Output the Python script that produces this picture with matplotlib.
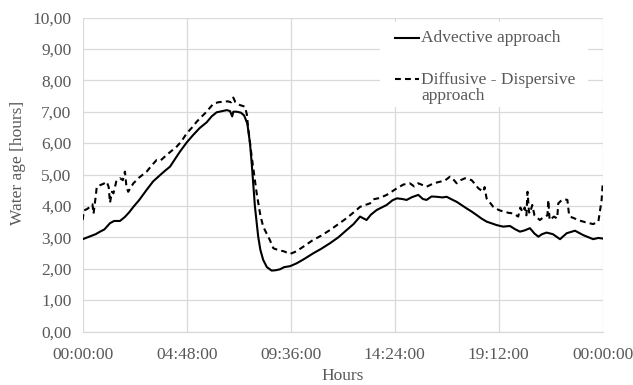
import matplotlib
matplotlib.use("Agg")
import matplotlib.pyplot as plt
from matplotlib.lines import Line2D
from matplotlib.patches import Rectangle

# ---- data (hours since 00:00, water age in hours) ----
adv_hours = [0.0, 0.3, 0.6, 0.8, 1.0, 1.26, 1.45, 1.72, 1.95, 2.15, 2.34, 2.6, 2.95, 3.25,
             3.57, 3.8, 4.03, 4.25, 4.49, 4.8, 5.1, 5.4, 5.72, 5.95, 6.18, 6.45, 6.65, 6.8,
             6.9, 6.95, 7.1, 7.3, 7.45, 7.6, 7.72, 7.8, 7.95, 8.1, 8.2, 8.33, 8.5, 8.72,
             8.9, 9.1, 9.3, 9.57, 9.87, 10.2, 10.64, 11.0, 11.41, 11.8, 12.18, 12.5, 12.8,
             13.1, 13.3, 13.57, 14.03, 14.3, 14.5, 14.75, 14.95, 15.2, 15.49, 15.7, 15.87,
             16.1, 16.34, 16.6, 16.8, 17.05, 17.26, 17.5, 17.72, 17.95, 18.18, 18.4, 18.64,
             18.85, 19.1, 19.4, 19.72, 19.95, 20.18, 20.4, 20.64, 20.85, 21.03, 21.2, 21.41,
             21.7, 22.03, 22.34, 22.72, 23.1, 23.35, 23.56, 23.8, 24.0]
adv_age = [2.94, 3.02, 3.10, 3.18, 3.25, 3.45, 3.52, 3.52, 3.65, 3.80, 3.97, 4.18, 4.51, 4.78,
           4.98, 5.12, 5.25, 5.48, 5.73, 6.02, 6.26, 6.48, 6.66, 6.85, 6.98, 7.02, 7.05, 7.02,
           6.85, 7.00, 7.00, 6.97, 6.88, 6.62, 6.00, 5.36, 3.97, 3.02, 2.60, 2.28, 2.05, 1.94,
           1.95, 1.98, 2.05, 2.08, 2.17, 2.30, 2.49, 2.63, 2.81, 3.00, 3.23, 3.42, 3.66,
           3.55, 3.72, 3.87, 4.03, 4.18, 4.24, 4.22, 4.19, 4.28, 4.35, 4.22, 4.19,
           4.30, 4.29, 4.27, 4.29, 4.20, 4.13, 4.02, 3.92, 3.82, 3.71, 3.60, 3.50,
           3.45, 3.39, 3.34, 3.36, 3.26, 3.18, 3.22, 3.29, 3.12, 3.02, 3.10, 3.15,
           3.10, 2.94, 3.13, 3.21, 3.07, 3.00, 2.94, 2.98, 2.96]

dd_hours = [0.0, 0.05, 0.2, 0.34, 0.45, 0.5, 0.6, 0.65, 0.8, 0.95, 1.11, 1.2, 1.26, 1.35,
            1.42, 1.55, 1.72, 1.85, 1.95, 2.02, 2.1, 2.34, 2.6, 2.95, 3.2, 3.41, 3.6, 3.87,
            4.1, 4.34, 4.55, 4.8, 5.05, 5.26, 5.5, 5.72, 5.9, 6.03, 6.25, 6.49, 6.7, 6.85,
            6.95, 7.05, 7.26, 7.49, 7.58, 7.63, 7.8, 8.03, 8.2, 8.33, 8.5, 8.64, 8.8, 9.0,
            9.3, 9.57, 9.85, 10.18, 10.6, 11.0, 11.41, 11.8, 12.2, 12.64, 12.8, 13.0, 13.26,
            13.41, 13.7, 14.03, 14.25, 14.5, 14.8, 15.1, 15.3, 15.49, 15.87, 16.2, 16.49,
            16.7, 16.95, 17.1, 17.26, 17.45, 17.64, 17.95, 18.1, 18.26, 18.49, 18.55, 18.64,
            18.8, 18.95, 19.2, 19.41, 19.65, 19.87, 20.1, 20.2, 20.3, 20.4, 20.48, 20.53,
            20.6, 20.64, 20.75, 20.85, 21.1, 21.3, 21.45, 21.49, 21.55, 21.75, 21.9, 21.95,
            22.1, 22.25, 22.37, 22.45, 22.49, 22.7, 22.95, 23.2, 23.56, 23.8, 23.95, 24.0]
dd_age = [3.55, 3.85, 3.90, 3.97, 4.05, 3.75, 4.30, 4.61, 4.66, 4.70, 4.77, 4.60, 4.10, 4.45,
          4.40, 4.78, 4.88, 4.82, 5.09, 4.60, 4.45, 4.72, 4.90, 5.09, 5.30, 5.46, 5.45, 5.62,
          5.75, 5.89, 6.05, 6.31, 6.50, 6.68, 6.85, 7.00, 7.15, 7.25, 7.30, 7.32, 7.33, 7.30,
          7.45, 7.30, 7.21, 7.16, 6.90, 6.52, 5.57, 4.40, 3.70, 3.34, 3.10, 2.91, 2.65, 2.60,
          2.55, 2.47, 2.55, 2.70, 2.90, 3.05, 3.23, 3.42, 3.62, 3.87, 3.97, 4.02, 4.08,
          4.21, 4.25, 4.35, 4.45, 4.56, 4.68, 4.72, 4.62, 4.72, 4.61, 4.72, 4.77,
          4.80, 4.93, 4.85, 4.72, 4.82, 4.88, 4.82, 4.70, 4.56, 4.45, 4.60, 4.24,
          4.10, 3.97, 3.87, 3.82, 3.78, 3.76, 3.66, 3.95, 3.80, 3.95, 3.70, 4.45,
          3.80, 3.76, 4.03, 3.70, 3.55, 3.66, 3.70, 4.19, 3.55, 3.66, 3.60, 4.08,
          4.18, 4.21, 4.19, 3.70, 3.66, 3.60, 3.53, 3.48, 3.42, 3.50, 4.19, 4.70]

x_tick_hours = [0, 4.8, 9.6, 14.4, 19.2, 24]
x_tick_labels = ["00:00:00", "04:48:00", "09:36:00", "14:24:00", "19:12:00", "00:00:00"]
y_ticks = [0, 1, 2, 3, 4, 5, 6, 7, 8, 9, 10]
y_tick_labels = ["0,00", "1,00", "2,00", "3,00", "4,00", "5,00", "6,00", "7,00", "8,00", "9,00", "10,00"]
series_labels = ["Advective approach", "Diffusive - Dispersive\napproach"]

# ---- style ----
FONT = "Liberation Serif"
FS = 12.5
TXT = "#595959"
GRID = "#d9d9d9"

W, H = 633, 385
fig = plt.figure(figsize=(W / 100, H / 100), dpi=100)
L, R, T, B = 82.7, 602.7, 17.5, 331.5
ax = fig.add_axes([L / W, 1 - B / H, (R - L) / W, (B - T) / H])

ax.plot(adv_hours, adv_age, color="black", lw=1.5, solid_joinstyle="round", zorder=3)
ax.plot(dd_hours, dd_age, color="black", lw=1.5, dashes=(2.8, 2.0), zorder=3)

ax.set_xlim(0, 24)
ax.set_ylim(0, 10)
ax.set_xticks(x_tick_hours)
ax.set_xticklabels(x_tick_labels)
ax.set_yticks(y_ticks)
ax.set_yticklabels(y_tick_labels)

for lab in ax.get_xticklabels() + ax.get_yticklabels():
    lab.set_fontfamily(FONT)
    lab.set_fontsize(FS)
    lab.set_color(TXT)
ax.tick_params(length=0, pad=8)
ax.tick_params(axis="x", pad=11)

ax.grid(True, color=GRID, lw=0.9, zorder=0)
ax.set_axisbelow(True)
for s in ax.spines.values():
    s.set_visible(False)
ax.spines["bottom"].set_visible(True)
ax.spines["bottom"].set_color(GRID)
ax.spines["bottom"].set_linewidth(0.9)


def fx(px):
    return (px - L) / (R - L)


def fy(py):
    return (B - py) / (B - T)


ax.set_xlabel("Hours", fontfamily=FONT, fontsize=FS, color=TXT)
ax.xaxis.set_label_coords(0.5, fy(376), transform=ax.transAxes)
ax.xaxis.label.set_va("center")
ax.set_ylabel("Water age [hours]", fontfamily=FONT, fontsize=FS, color=TXT)
ax.yaxis.set_label_coords(fx(18), fy(163), transform=ax.transAxes)
ax.yaxis.label.set_va("center")

# ---- legend (manual, mimicking Excel layout) ----
ax.add_patch(Rectangle((fx(380), fy(107)), fx(588) - fx(380), fy(22) - fy(107),
                       transform=ax.transAxes, facecolor="white", edgecolor="none", zorder=2))
ax.add_line(Line2D([fx(395), fx(419)], [fy(38), fy(38)], transform=ax.transAxes,
                   color="black", lw=1.5, zorder=4))
ax.add_line(Line2D([fx(395), fx(419)], [fy(79), fy(79)], transform=ax.transAxes,
                   color="black", lw=1.5, dashes=(2.8, 2.0), zorder=4))
ax.text(fx(421), fy(38), series_labels[0], transform=ax.transAxes, va="center", ha="left",
        fontfamily=FONT, fontsize=FS, color=TXT, zorder=4)
ax.text(fx(421), fy(88), series_labels[1], transform=ax.transAxes, va="center", ha="left",
        fontfamily=FONT, fontsize=FS, color=TXT, linespacing=0.95, zorder=4)

fig.savefig("out.png", dpi=100)
